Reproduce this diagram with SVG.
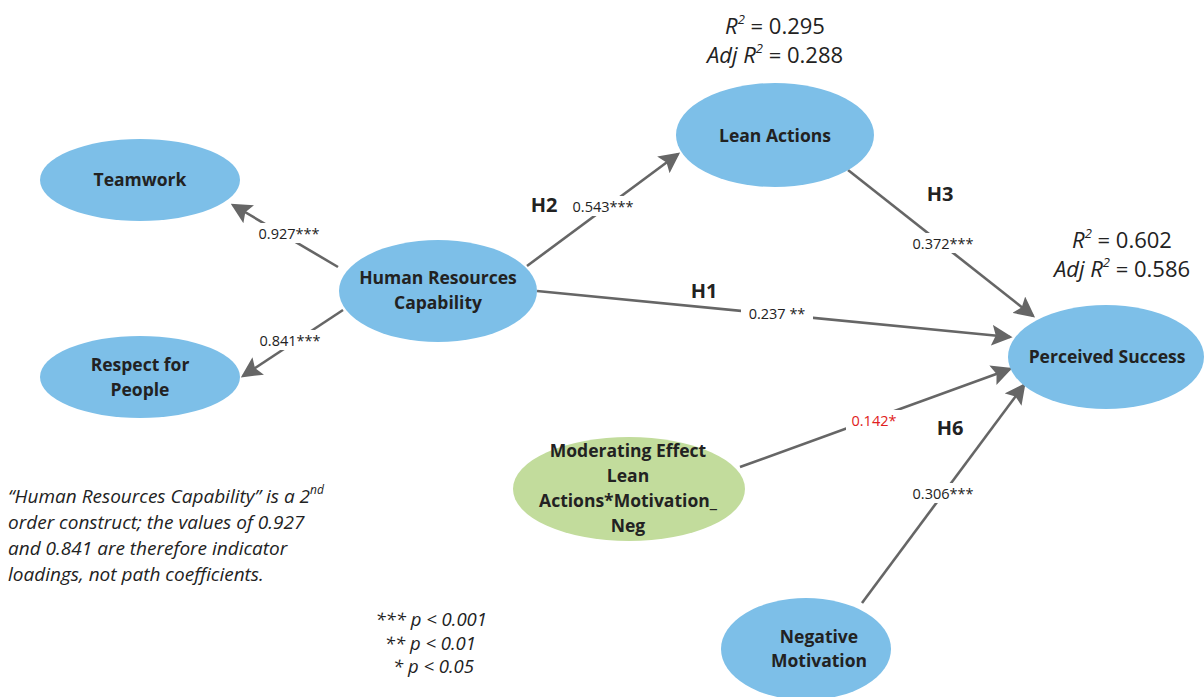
<svg xmlns="http://www.w3.org/2000/svg" width="1204" height="697" viewBox="0 0 1204 697">
<style>
.blue{fill:#7dbfe8}
.green{fill:#c2dc9c}
.nt{font-family:"Open Sans",Lato,sans-serif;font-weight:bold;font-size:17.5px;fill:#222;text-anchor:middle}
.lbl{font-family:"Open Sans",Lato,sans-serif;font-size:14.5px;fill:#222;text-anchor:middle}
.h{font-family:"Open Sans",Lato,sans-serif;font-weight:bold;font-size:20px;fill:#222;text-anchor:middle}
.r2{font-family:"Open Sans",Lato,sans-serif;font-size:22px;fill:#222;text-anchor:middle}
.it{font-family:"Open Sans",Lato,sans-serif;font-style:italic;font-size:19px;fill:#222}
.leg{font-family:"Open Sans",Lato,sans-serif;font-style:italic;font-size:18.5px;fill:#222;text-anchor:end}
.conn{stroke:#666;stroke-width:2.6;fill:none;marker-end:url(#ah)}
.bg{fill:#fff}
</style>
<defs>
<marker id="ah" markerWidth="8" markerHeight="8" refX="7" refY="4" orient="auto" markerUnits="strokeWidth">
<path d="M0,0 L8,4 L0,8 L1.5,4 Z" fill="#666"/>
</marker>
</defs>
<rect width="1204" height="697" fill="#fff"/>
<g id="connectors">
<line class="conn" x1="338" y1="267" x2="233" y2="205"/>
<line class="conn" x1="343" y1="310" x2="243" y2="376"/>
<line class="conn" x1="527" y1="266" x2="678" y2="154"/>
<line class="conn" x1="537" y1="291" x2="1010" y2="337"/>
<line class="conn" x1="848" y1="170" x2="1033" y2="316"/>
<line class="conn" x1="740" y1="467" x2="1010" y2="369"/>
<line class="conn" x1="862" y1="603" x2="1024" y2="385"/>
<rect class="bg" x="251" y="223" width="76" height="20"/>
<text class="lbl" x="289" y="239">0.927***</text>
<rect class="bg" x="252" y="330" width="76" height="20"/>
<text class="lbl" x="290" y="346">0.841***</text>
<rect class="bg" x="565" y="196" width="76" height="20"/>
<text class="lbl" x="603" y="212">0.543***</text>
<rect class="bg" x="741" y="303" width="72" height="20"/>
<text class="lbl" x="777" y="319">0.237 **</text>
<rect class="bg" x="905" y="233" width="76" height="20"/>
<text class="lbl" x="943" y="249">0.372***</text>
<rect class="bg" x="846" y="410" width="58" height="20"/>
<text class="lbl" x="874" y="426" style="fill:#e02020">0.142*</text>
<rect class="bg" x="905" y="483" width="76" height="20"/>
<text class="lbl" x="943" y="499">0.306***</text>
<text class="h" x="544" y="212">H2</text>
<text class="h" x="704" y="298">H1</text>
<text class="h" x="940" y="201">H3</text>
<text class="h" x="950" y="435">H6</text>
</g>
<g id="teamwork">
<ellipse class="blue" cx="140" cy="180" rx="100" ry="41"/>
<text class="nt" x="140" y="186">Teamwork</text>
</g>
<g id="respect">
<ellipse class="blue" cx="140" cy="377" rx="100" ry="41"/>
<text class="nt" x="140" y="371">Respect for</text>
<text class="nt" x="140" y="396">People</text>
</g>
<g id="hrc">
<ellipse class="blue" cx="438" cy="291" rx="99" ry="51"/>
<text class="nt" x="438" y="284">Human Resources</text>
<text class="nt" x="438" y="309">Capability</text>
</g>
<g id="lean">
<ellipse class="blue" cx="775" cy="135" rx="99" ry="52"/>
<text class="nt" x="775" y="142">Lean Actions</text>
</g>
<g id="perceived">
<ellipse class="blue" cx="1106" cy="357" rx="98" ry="52"/>
<text class="nt" x="1107" y="363">Perceived Success</text>
</g>
<g id="moderating">
<ellipse class="green" cx="629" cy="489" rx="116" ry="52"/>
<text class="nt" x="628" y="457">Moderating Effect</text>
<text class="nt" x="628" y="482">Lean</text>
<text class="nt" x="628" y="507">Actions*Motivation_</text>
<text class="nt" x="628" y="532">Neg</text>
</g>
<g id="negative">
<ellipse class="blue" cx="806" cy="649" rx="85" ry="51"/>
<text class="nt" x="819" y="643">Negative</text>
<text class="nt" x="819" y="667">Motivation</text>
</g>
<g id="r2-lean">
<text class="r2" x="775" y="34"><tspan font-style="italic">R</tspan><tspan font-size="13" dy="-10" font-style="italic">2</tspan><tspan dy="10"> = 0.295</tspan></text>
<text class="r2" x="775" y="63"><tspan font-style="italic">Adj R</tspan><tspan font-size="13" dy="-10" font-style="italic">2</tspan><tspan dy="10"> = 0.288</tspan></text>
</g>
<g id="r2-perceived">
<text class="r2" x="1122" y="248"><tspan font-style="italic">R</tspan><tspan font-size="13" dy="-10" font-style="italic">2</tspan><tspan dy="10"> = 0.602</tspan></text>
<text class="r2" x="1122" y="277"><tspan font-style="italic">Adj R</tspan><tspan font-size="13" dy="-10" font-style="italic">2</tspan><tspan dy="10"> = 0.586</tspan></text>
</g>
<g id="note">
<text class="it" x="8" y="503">“Human Resources Capability” is a 2<tspan font-size="12" dy="-9">nd</tspan></text>
<text class="it" x="8" y="529">order construct; the values of 0.927</text>
<text class="it" x="8" y="555">and 0.841 are therefore indicator</text>
<text class="it" x="8" y="581">loadings, not path coefficients.</text>
</g>
<g id="legend">
<text class="leg" x="487" y="626">*** p &lt; 0.001</text>
<text class="leg" x="476" y="650">** p &lt; 0.01</text>
<text class="leg" x="474" y="673">* p &lt; 0.05</text>
</g>
</svg>
